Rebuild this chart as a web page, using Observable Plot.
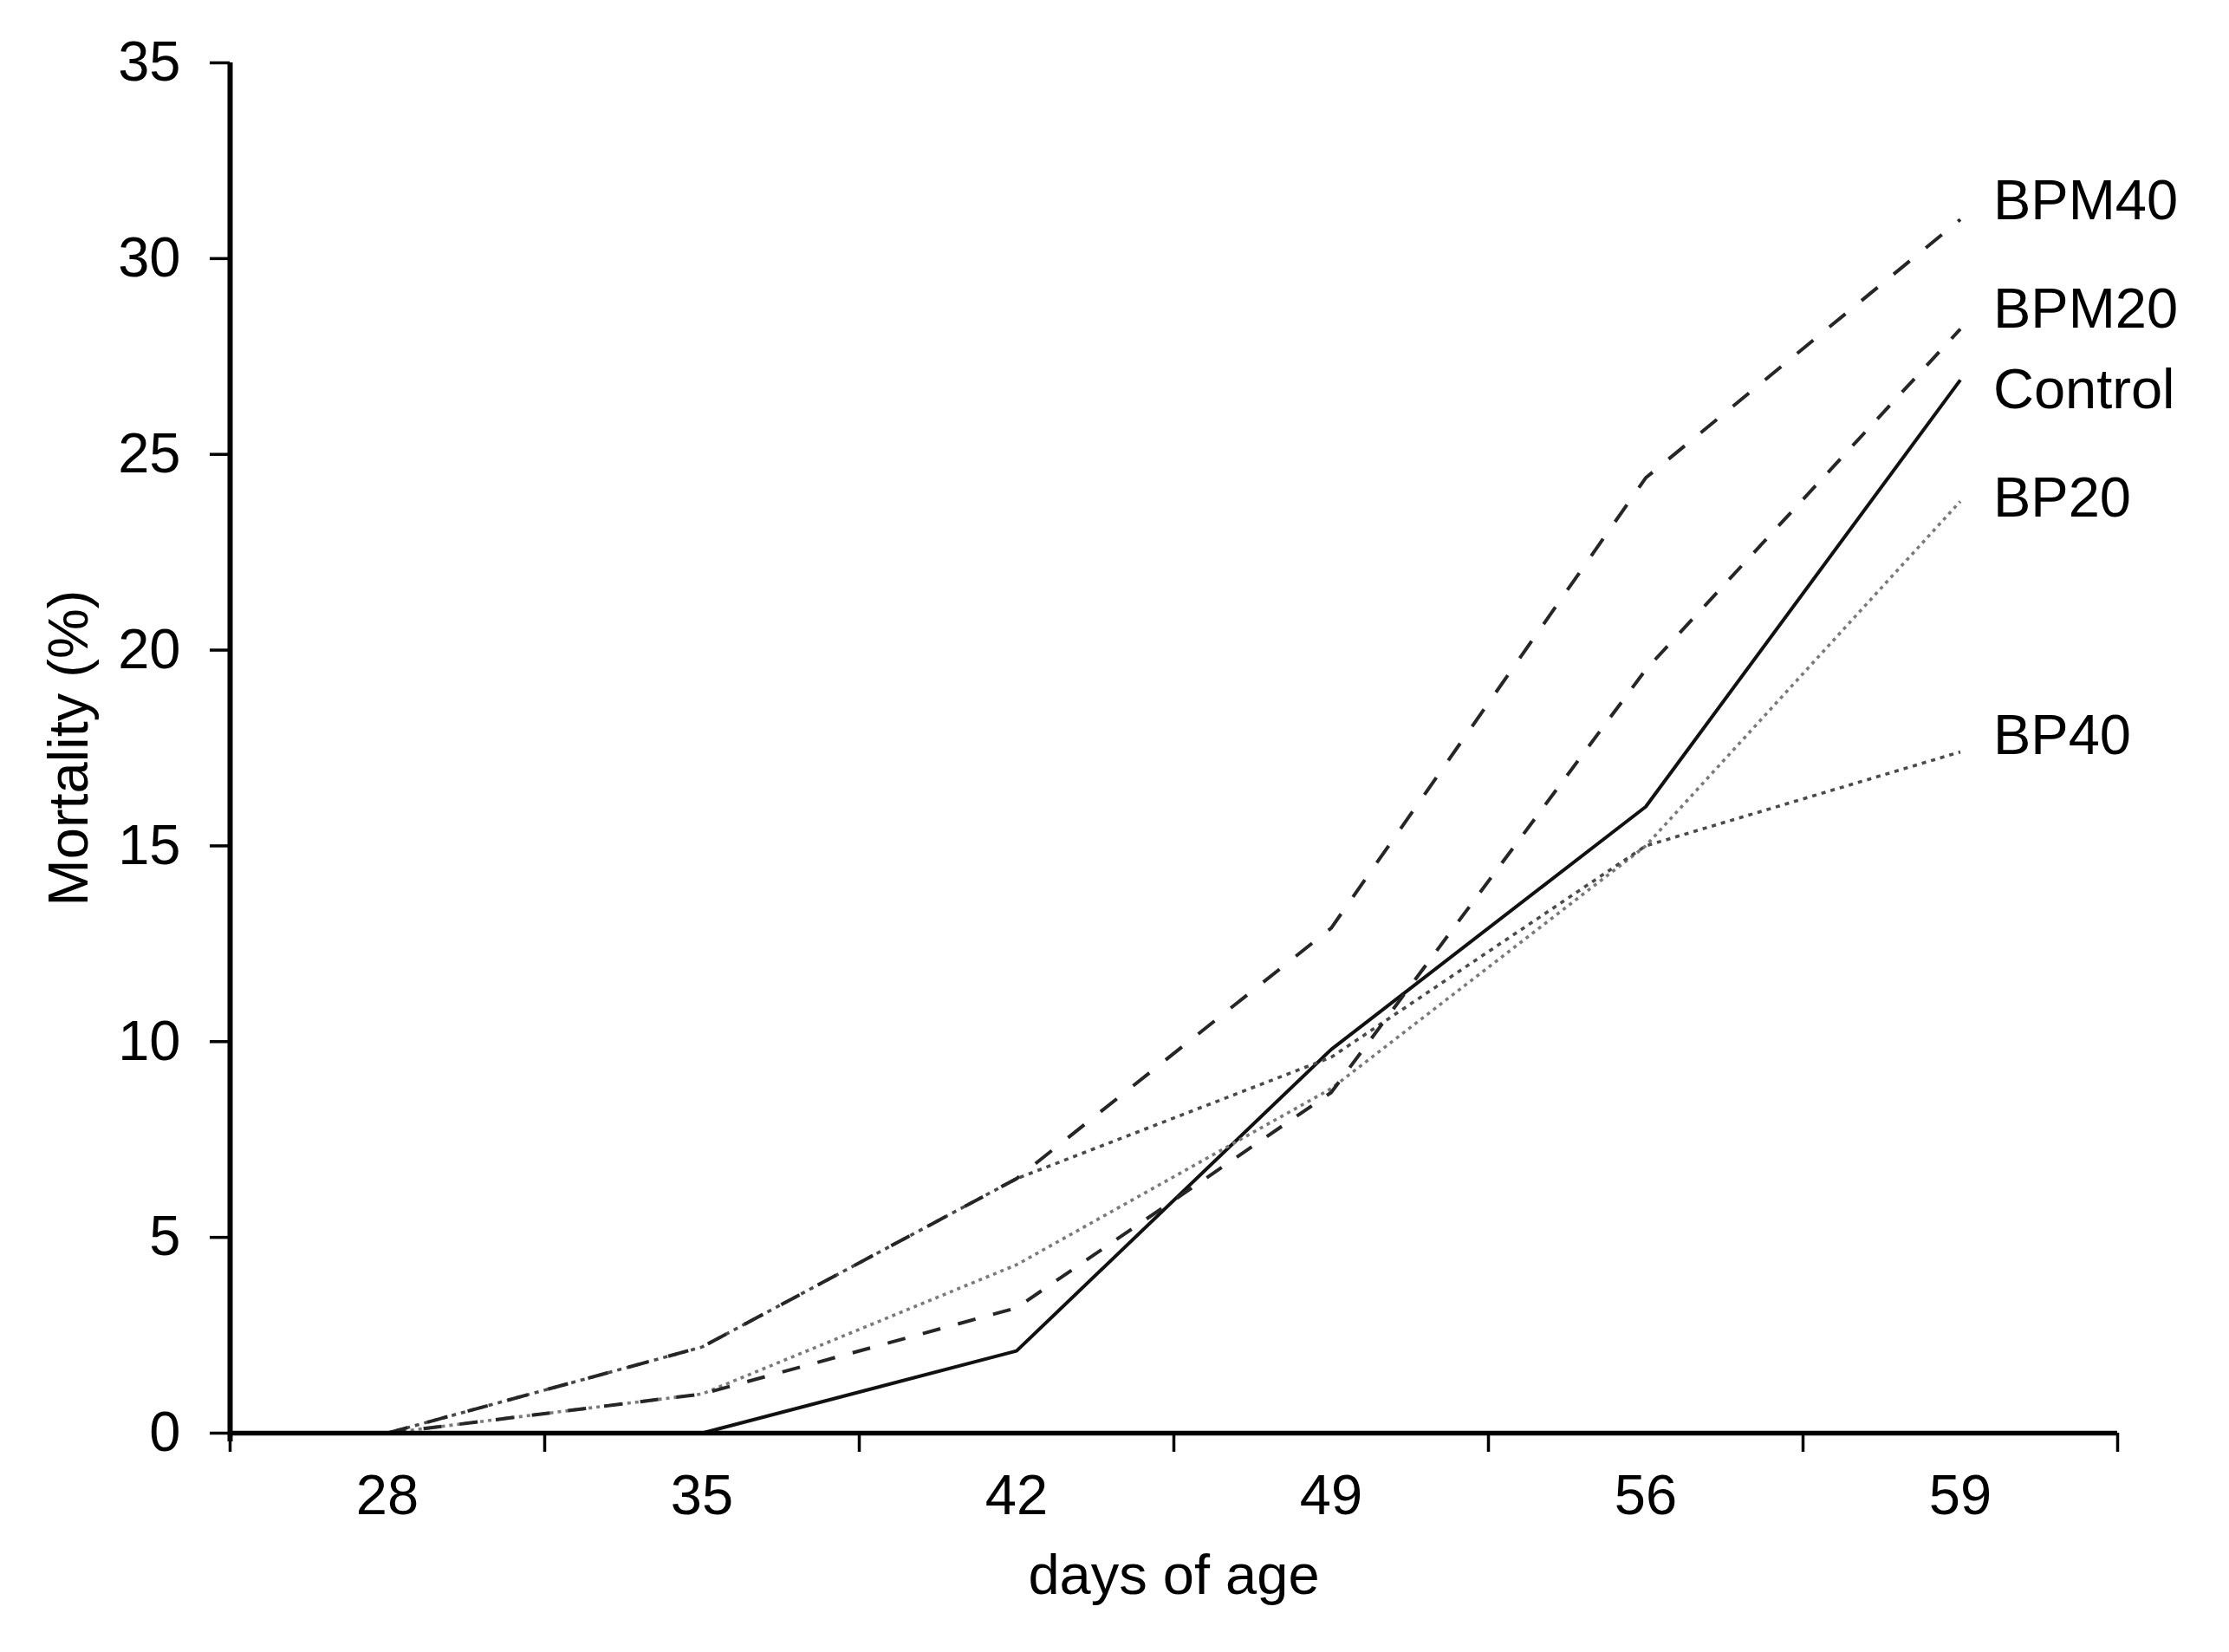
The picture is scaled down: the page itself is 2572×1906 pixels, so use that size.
<!DOCTYPE html>
<html>
<head>
<meta charset="utf-8">
<script src="https://cdn.jsdelivr.net/npm/d3@7"></script>
<script src="https://cdn.jsdelivr.net/npm/@observablehq/plot@0.6"></script>
<style>
  html, body { margin: 0; padding: 0; background: #ffffff; }
  #chart svg { display: block; }
</style>
</head>
<body>
<div id="chart"></div>
<script>
// ---- data ----
const days = ["28", "35", "42", "49", "56", "59"];
const seriesNames = ["Control", "BP20", "BP40", "BPM20", "BPM40"];
const control = [0, 0, 2.1, 9.8, 16.0, 26.9];
const bp20    = [0, 1.0, 4.3, 8.8, 15.0, 23.8];
const bp40    = [0, 2.2, 6.5, 9.6, 15.0, 17.4];
const bpm20   = [0, 1.0, 3.2, 8.7, 19.5, 28.2];
const bpm40   = [0, 2.2, 6.5, 12.9, 24.4, 31.0];
const yTicks  = [0, 5, 10, 15, 20, 25, 30, 35];
const xTitle  = "days of age";
const yTitle  = "Mortality (%)";

// ---- build tables ----
const seriesValues = {Control: control, BP20: bp20, BP40: bp40, BPM20: bpm20, BPM40: bpm40};
const rows = seriesNames.flatMap(s => seriesValues[s].map((v, i) => ({series: s, i, value: v})));
const last = days.length - 1;
const ends = seriesNames.map(s => ({series: s, i: last, value: seriesValues[s][last]}));
const dayIndex = days.map((d, i) => i);
const bandEdges = d3.range(days.length + 1).map(k => k - 0.5);

// ---- styles ----
const lineStyle = {
  Control: {stroke: "#111111", dash: null,    width: 4},
  BP20:    {stroke: "#7a7a7a", dash: "4,5",   width: 3.6},
  BP40:    {stroke: "#4a4a4a", dash: "5,6",   width: 3.6},
  BPM20:   {stroke: "#262626", dash: "21,21", width: 4},
  BPM40:   {stroke: "#262626", dash: "24,24", width: 4}
};
const labelNudge = {BPM40: -21, BPM20: -22, Control: 12, BP20: -3, BP40: -18};

const font = "'Liberation Sans', Arial, Helvetica, sans-serif";
const fs = 65;

const lineMarks = seriesNames.map(s => Plot.line(rows.filter(r => r.series === s), {
  x: "i", y: "value",
  stroke: lineStyle[s].stroke,
  strokeWidth: lineStyle[s].width,
  strokeDasharray: lineStyle[s].dash,
  strokeLinecap: "butt",
  strokeLinejoin: "miter"
}));

const labelMarks = seriesNames.map(s => Plot.text(ends.filter(e => e.series === s), {
  x: "i", y: "value", text: "series",
  dx: 38, dy: labelNudge[s],
  textAnchor: "start", lineAnchor: "middle",
  fontSize: fs, fill: "#000"
}));

const chart = Plot.plot({
  width: 2572,
  height: 1906,
  marginLeft: 265,
  marginRight: 129,
  marginTop: 72,
  marginBottom: 253,
  style: {fontFamily: font, background: "#ffffff", color: "#000", fontSize: fs + "px"},
  x: {type: "linear", domain: [-0.5, days.length - 0.5], label: null},
  y: {type: "linear", domain: [0, 35], label: null},
  marks: [
    Plot.axisX(bandEdges, {tickSize: 22, tickFormat: () => "", strokeWidth: 3.5, stroke: "#000", label: null}),
    Plot.axisX(dayIndex, {tickSize: 0, tickPadding: 47, tickFormat: i => days[i], fontSize: fs, label: null, fill: "#000"}),
    Plot.axisY(yTicks, {tickSize: 23, tickPadding: 34, fontSize: fs, strokeWidth: 3.5, stroke: "#000", label: null, fill: "#000"}),
    ...lineMarks,
    Plot.ruleY([0], {strokeWidth: 5.5, stroke: "#000"}),
    Plot.ruleX([-0.5], {strokeWidth: 6, stroke: "#000", insetBottom: -10}),
    ...labelMarks,
    Plot.text([xTitle], {frameAnchor: "bottom", dy: 185, lineAnchor: "bottom", textAnchor: "middle", fontSize: fs, fill: "#000"}),
    Plot.text([yTitle], {frameAnchor: "left", dx: -165, rotate: -90, lineAnchor: "bottom", textAnchor: "middle", fontSize: fs, fill: "#000"})
  ]
});
document.getElementById("chart").appendChild(chart);
</script>
</body>
</html>
